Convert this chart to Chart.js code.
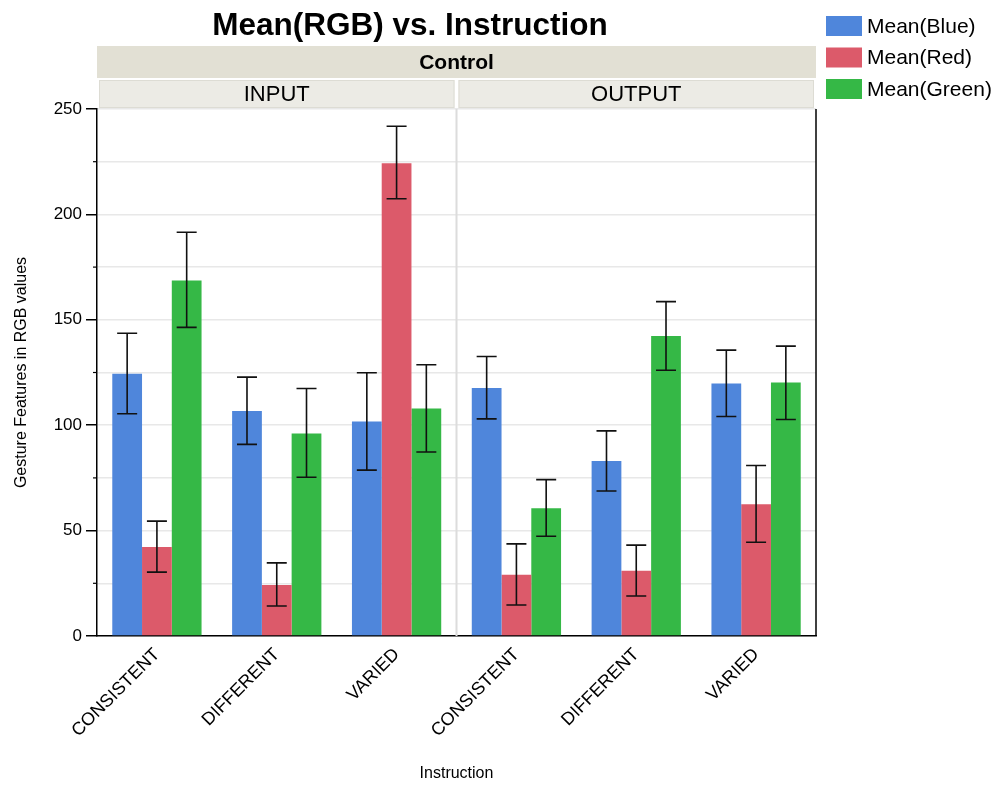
<!DOCTYPE html>
<html>
<head>
<meta charset="utf-8">
<script src="https://cdn.jsdelivr.net/npm/chart.js@4"></script>
<style>
  html, body { margin: 0; padding: 0; background: #fff; }
  #wrap { width: 999px; height: 785px; }
</style>
</head>
<body>
<div id="wrap"><canvas id="c" width="999" height="785"></canvas></div>
<script>
const chartTitle = 'Mean(RGB) vs. Instruction';
const stripTitle = 'Control';
const panels = ['INPUT', 'OUTPUT'];
const categories = ['CONSISTENT', 'DIFFERENT', 'VARIED', 'CONSISTENT', 'DIFFERENT', 'VARIED'];
const seriesNames = ['Mean(Blue)', 'Mean(Red)', 'Mean(Green)'];
const seriesColors = ['#4f86db', '#dc5a6a', '#35b846'];

const blue    = [124.4, 106.7, 101.7, 117.7, 83.0, 119.8];
const blueLo  = [105.4, 90.9, 78.7, 103.0, 68.8, 104.1];
const blueHi  = [143.6, 122.8, 124.9, 132.6, 97.3, 135.6];
const red     = [42.2, 24.2, 224.3, 29.1, 30.9, 62.5];
const redLo   = [30.3, 14.2, 207.4, 14.7, 19.0, 44.5];
const redHi   = [54.5, 34.7, 241.8, 43.7, 43.1, 80.9];
const green   = [168.6, 96.1, 107.9, 60.6, 142.3, 120.2];
const greenLo = [146.4, 75.3, 87.3, 47.3, 126.1, 102.7];
const greenHi = [191.5, 117.4, 128.7, 74.2, 158.6, 137.5];

const yTicks = [0, 50, 100, 150, 200, 250];
const yMax = 250;
const yStep = 25;
const yTitle = 'Gesture Features in RGB values';
const xTitle = 'Instruction';

const values = [blue, red, green];
const lows = [blueLo, redLo, greenLo];
const highs = [blueHi, redHi, greenHi];

const FONT = '"Liberation Sans", Arial, Helvetica, sans-serif';

const decorPlugin = {
  id: 'decor',
  beforeDatasetsDraw(chart) {
    const ctx = chart.ctx, a = chart.chartArea, xs = chart.scales.x;
    const per = categories.length / panels.length;
    ctx.save();
    ctx.strokeStyle = '#dcdcdc';
    ctx.lineWidth = 2;
    for (let p = 1; p < panels.length; p++) {
      const xx = (xs.getPixelForTick(p * per - 1) + xs.getPixelForTick(p * per)) / 2;
      ctx.beginPath(); ctx.moveTo(xx, a.top); ctx.lineTo(xx, a.bottom); ctx.stroke();
    }
    ctx.restore();
  },
  afterDatasetsDraw(chart) {
    const ctx = chart.ctx, ys = chart.scales.y;
    ctx.save();
    ctx.strokeStyle = '#111';
    ctx.lineWidth = 1.6;
    for (let i = 0; i < values.length; i++) {
      const meta = chart.getDatasetMeta(i);
      meta.data.forEach((el, j) => {
        const x = el.x;
        const y1 = ys.getPixelForValue(lows[i][j]);
        const y2 = ys.getPixelForValue(highs[i][j]);
        ctx.beginPath();
        ctx.moveTo(x, y1); ctx.lineTo(x, y2);
        ctx.moveTo(x - 10, y1); ctx.lineTo(x + 10, y1);
        ctx.moveTo(x - 10, y2); ctx.lineTo(x + 10, y2);
        ctx.stroke();
      });
    }
    ctx.restore();
  },
  afterDraw(chart) {
    const ctx = chart.ctx, a = chart.chartArea, xs = chart.scales.x, ys = chart.scales.y;
    ctx.save();
    // right border
    ctx.strokeStyle = '#000';
    ctx.lineWidth = 1.5;
    ctx.beginPath(); ctx.moveTo(a.right, a.top); ctx.lineTo(a.right, a.bottom); ctx.stroke();

    // minor ticks
    ctx.lineWidth = 1.2;
    for (let v = 0; v <= yMax; v += yStep) {
      if (yTicks.includes(v)) continue;
      const y = ys.getPixelForValue(v);
      ctx.beginPath(); ctx.moveTo(a.left - 4, y); ctx.lineTo(a.left, y); ctx.stroke();
    }

    // title
    ctx.fillStyle = '#000';
    ctx.font = 'bold 31.5px ' + FONT;
    ctx.textAlign = 'center'; ctx.textBaseline = 'middle';
    ctx.fillText(chartTitle, 410, 26);

    // top strip
    const s1t = 46, s1b = 78, s2t = 80, s2b = 108;
    ctx.fillStyle = '#e2e0d4';
    ctx.fillRect(a.left, s1t, a.right - a.left, s1b - s1t);
    ctx.fillStyle = '#000';
    ctx.font = 'bold 21px ' + FONT;
    ctx.fillText(stripTitle, (a.left + a.right) / 2, (s1t + s1b) / 2 + 1);

    // panel strips
    const per = categories.length / panels.length;
    const bounds = [a.left];
    for (let p = 1; p < panels.length; p++) {
      bounds.push((xs.getPixelForTick(p * per - 1) + xs.getPixelForTick(p * per)) / 2);
    }
    bounds.push(a.right);
    for (let p = 0; p < panels.length; p++) {
      const l = bounds[p] + 2, r = bounds[p + 1] - 2;
      ctx.fillStyle = '#ecebe5';
      ctx.fillRect(l, s2t, r - l, s2b - s2t);
      ctx.strokeStyle = '#dddcd4';
      ctx.lineWidth = 1;
      ctx.strokeRect(l + 0.5, s2t + 0.5, r - l - 1, s2b - s2t - 1);
      ctx.fillStyle = '#000';
      ctx.font = '22px ' + FONT;
      ctx.fillText(panels[p], (l + r) / 2, (s2t + s2b) / 2 + 1);
    }

    // legend
    ctx.textAlign = 'left';
    ctx.font = '21px ' + FONT;
    const lx = 826, ly0 = 16, step = 31.5;
    seriesNames.forEach((n, i) => {
      const y = ly0 + i * step;
      ctx.fillStyle = seriesColors[i];
      ctx.fillRect(lx, y, 36, 20);
      ctx.fillStyle = '#000';
      ctx.fillText(n, lx + 41, y + 11);
    });
    ctx.restore();
  }
};

new Chart(document.getElementById('c'), {
  type: 'bar',
  data: {
    labels: categories,
    datasets: values.map((v, i) => ({
      label: seriesNames[i],
      data: v,
      backgroundColor: seriesColors[i],
      borderWidth: 0,
      categoryPercentage: 0.745,
      barPercentage: 1.0
    }))
  },
  options: {
    responsive: false,
    animation: false,
    devicePixelRatio: 1,
    layout: { padding: { left: 0, right: 183, top: 109, bottom: 0 } },
    plugins: { legend: { display: false }, title: { display: false }, tooltip: { enabled: false } },
    scales: {
      x: {
        grid: { display: false },
        border: { display: true, color: '#000', width: 1.5 },
        ticks: {
          color: '#000', font: { family: FONT, size: 18 },
          maxRotation: 45, minRotation: 45, autoSkip: false, padding: 0
        },
        title: { display: true, text: xTitle, color: '#000', font: { family: FONT, size: 16 }, padding: { top: 0, bottom: 2 } },
        afterFit(s) { s.height = 149; }
      },
      y: {
        min: 0, max: yMax,
        grid: {
          color: '#e8e8e8', lineWidth: 1.5, tickLength: 11, drawTicks: true,
          tickColor: (c) => (c.tick && yTicks.includes(c.tick.value)) ? '#000' : 'rgba(0,0,0,0)'
        },
        border: { display: true, color: '#000', width: 1.5 },
        ticks: {
          stepSize: yStep, color: '#000', font: { family: FONT, size: 17 }, padding: 4,
          callback: (v) => yTicks.includes(v) ? String(v) : ''
        },
        title: { display: true, text: yTitle, color: '#000', font: { family: FONT, size: 16 }, padding: { top: 12, bottom: 0 } },
        afterFit(s) { s.width = 97; }
      }
    }
  },
  plugins: [decorPlugin]
});
</script>
</body>
</html>
